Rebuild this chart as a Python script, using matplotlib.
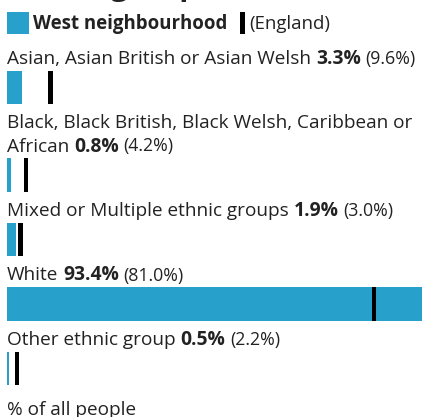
import matplotlib
matplotlib.use("Agg")
import matplotlib.pyplot as plt
from matplotlib.patches import Rectangle

# ---- data ----
categories = [
    "Asian, Asian British or Asian Welsh",
    "Black, Black British, Black Welsh, Caribbean or\nAfrican",
    "Mixed or Multiple ethnic groups",
    "White",
    "Other ethnic group",
]
area_values = [3.3, 0.8, 1.9, 93.4, 0.5]
england_values = [9.6, 4.2, 3.0, 81.0, 2.2]
area_name = "West neighbourhood"
comparison_name = "England"
title = "Ethnic group"
footer = "% of all people"

# ---- style ----
W, H, DPI = 422, 417, 100
BLUE = "#27a0cc"
TXT = "#222222"
FONT = "Open Sans"
PX = 72 / DPI  # points per pixel
REG = 19.0 * PX
BOLD = 19.3 * PX
PAR = 17.8 * PX
LEG = 18.6 * PX

fig = plt.figure(figsize=(W / DPI, H / DPI), dpi=DPI)
fig.patch.set_facecolor("white")
renderer = fig.canvas.get_renderer()

# text axes in pixel coordinates
tax = fig.add_axes([0, 0, 1, 1])
tax.set_xlim(0, W)
tax.set_ylim(H, 0)
tax.axis("off")

# bar axes: 0..100 % spans from x=7px, 4.53px per %
LEFT = 7
SCALE = 4.53
bax = fig.add_axes([LEFT / W, 0, 100 * SCALE / W, 1])
bax.set_xlim(0, 100)
bax.set_ylim(H, 0)
bax.axis("off")
bax.patch.set_alpha(0)


def width_px(s, size, weight="normal"):
    t = tax.text(0, 0, s, fontsize=size, fontweight=weight, family=FONT)
    w = t.get_window_extent(renderer).width
    t.remove()
    return w


def runs(x, y, parts):
    for s, size, weight in parts:
        tax.text(x, y, s, fontsize=size, fontweight=weight, family=FONT,
                 color=TXT, va="baseline", ha="left")
        x += width_px(s, size, weight)
    return x


def space(size, weight="normal"):
    return width_px("a a", size, weight) - width_px("aa", size, weight)


# title (mostly cut off at top)
tax.text(LEFT + 2, -5, title, fontsize=30 * PX, fontweight="bold", family=FONT,
         color=TXT, va="baseline")

# legend
tax.add_patch(Rectangle((LEFT, 12), 22, 22, color=BLUE, lw=0))
runs(33, 29, [(area_name, LEG, "bold")])
tax.add_patch(Rectangle((240, 12), 5, 22, color="black", lw=0))
runs(249, 29, [("(" + comparison_name + ")", LEG, "normal")])

# rows
BAR_H = 33.5
LINE_H = 23
baseline = 64
for cat, v, e in zip(categories, area_values, england_values):
    lines = cat.split("\n")
    for ln in lines[:-1]:
        runs(LEFT, baseline, [(ln, REG, "normal")])
        baseline += LINE_H
    x = runs(LEFT, baseline, [(lines[-1], REG, "normal")])
    x += space(REG)
    x = runs(x, baseline, [(f"{v:.1f}%", BOLD, "bold")])
    x += space(PAR)
    runs(x, baseline, [(f"({e:.1f}%)", PAR, "normal")])
    top = baseline + 6.5
    bax.barh(top + BAR_H / 2, v, height=BAR_H, left=0, color=BLUE, lw=0)
    bax.barh(top + BAR_H / 2, 1.0, height=BAR_H, left=e - 0.5, color="black", lw=0)
    last_end = top + BAR_H
    baseline = last_end + 24.5

runs(LEFT, last_end + 30, [(footer, REG, "normal")])

fig.savefig("out.png", dpi=DPI)
